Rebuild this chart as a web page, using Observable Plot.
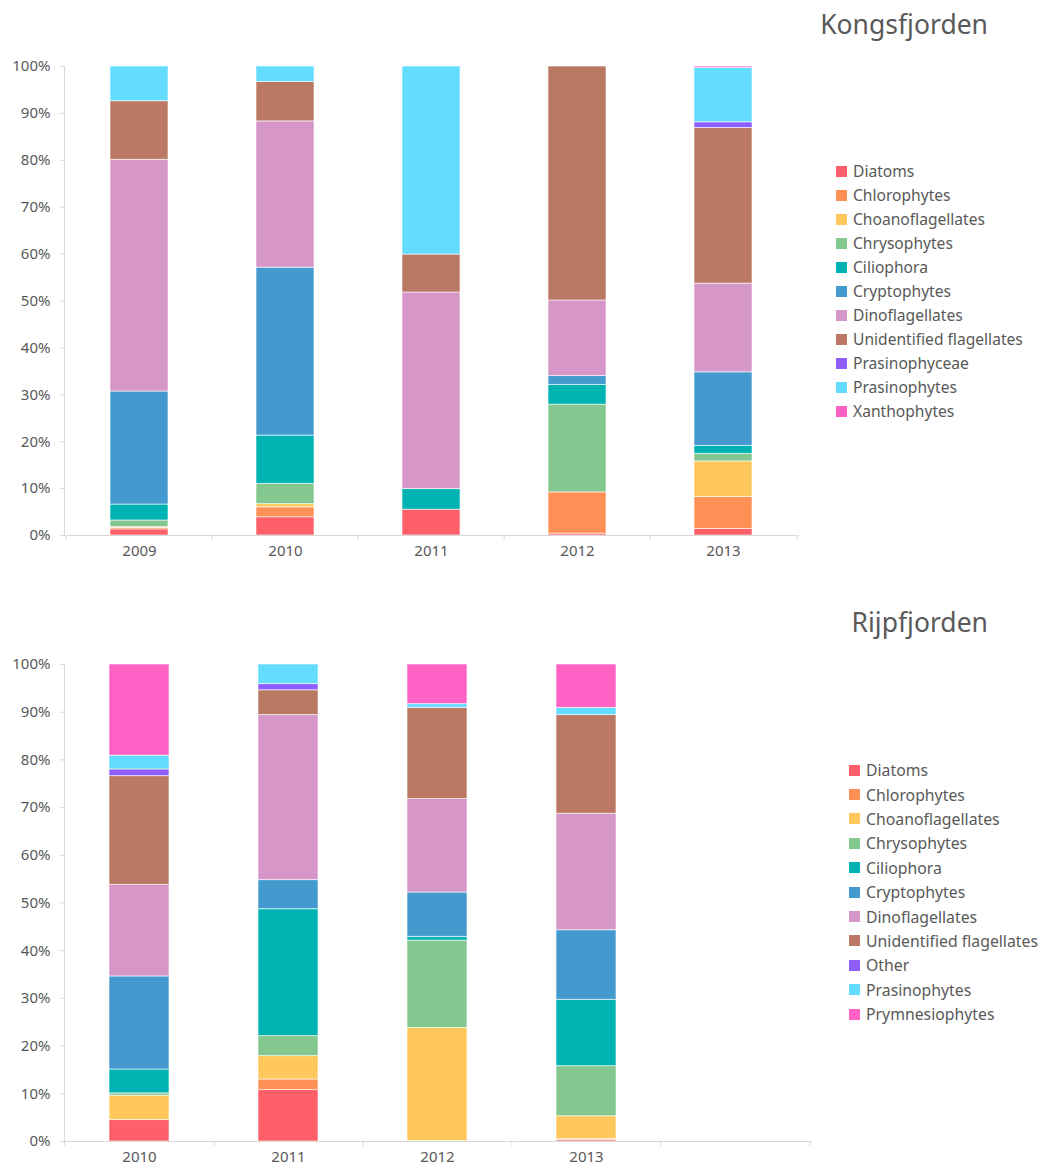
<!DOCTYPE html>
<html><head><meta charset="utf-8">
<script src="https://cdn.jsdelivr.net/npm/d3@7"></script>
<script src="https://cdn.jsdelivr.net/npm/@observablehq/plot@0.6"></script>
<style>
body{margin:0;background:#fff;font-family:"Noto Sans",sans-serif;color:#595959}
#root{position:relative;width:1043px;height:1165px;overflow:hidden;background:#fff}
.title{position:absolute;font-size:26.5px;line-height:34px;color:#595959;white-space:nowrap}
.legend{position:absolute;color:#595959}
.legend .row{display:flex;align-items:center;white-space:nowrap}
.legend .sw{width:11px;height:11px;margin-right:6px;display:inline-block;flex:none}
.chart{position:absolute;left:0}
</style></head><body><div id="root"></div>
<script>
// ---- Data ----
const colors = ["#FF5F68","#FF9055","#FFC85C","#84C890","#00B3B3","#449ACE","#D696C8","#BB7965","#8D5DFF","#62DDFF","#FF62C4"];

const kongYears = ["2009","2010","2011","2012","2013"];
const kongGroups = ["Diatoms","Chlorophytes","Choanoflagellates","Chrysophytes","Ciliophora","Cryptophytes","Dinoflagellates","Unidentified flagellates","Prasinophyceae","Prasinophytes","Xanthophytes"];
const kongDiatoms        = [1.3, 3.9, 5.5, 0.4, 1.4];
const kongChlorophytes   = [0.3, 2.1, 0, 8.8, 6.8];
const kongChoano         = [0.2, 0.7, 0, 0, 7.6];
const kongChrysophytes   = [1.4, 4.3, 0, 18.7, 1.6];
const kongCiliophora     = [3.4, 10.3, 4.4, 4.2, 1.7];
const kongCryptophytes   = [24.1, 35.8, 0, 1.9, 15.7];
const kongDino           = [49.4, 31.2, 41.9, 16.1, 18.9];
const kongUnidentified   = [12.5, 8.4, 8.1, 49.9, 33.2];
const kongPrasinophyceae = [0, 0, 0, 0, 1.2];
const kongPrasinophytes  = [7.4, 3.3, 40.1, 0, 11.6];
const kongXanthophytes   = [0, 0, 0, 0, 0.3];

const rijpYears = ["2010","2011","2012","2013"];
const rijpGroups = ["Diatoms","Chlorophytes","Choanoflagellates","Chrysophytes","Ciliophora","Cryptophytes","Dinoflagellates","Unidentified flagellates","Other","Prasinophytes","Prymnesiophytes"];
const rijpDiatoms        = [4.5, 10.8, 0.1, 0.3];
const rijpChlorophytes   = [0, 2.2, 0, 0.2];
const rijpChoano         = [5.1, 4.9, 23.7, 4.8];
const rijpChrysophytes   = [0.5, 4.2, 18.3, 10.5];
const rijpCiliophora     = [5.0, 26.6, 0.8, 13.9];
const rijpCryptophytes   = [19.5, 6.1, 9.3, 14.6];
const rijpDino           = [19.2, 34.6, 19.6, 24.4];
const rijpUnidentified   = [22.8, 5.2, 19.1, 20.7];
const rijpOther          = [1.4, 1.3, 0, 0];
const rijpPrasinophytes  = [2.9, 4.1, 0.8, 1.5];
const rijpPrymnesio      = [19.1, 0, 8.3, 9.1];

const yTicks = [0,10,20,30,40,50,60,70,80,90,100];

// ---- Chart builder ----
function makeChart({years, domain, groups, values, height, marginTop, marginBottom, marginRight, tickPadding}) {
  const data = [];
  years.forEach((yr, i) => groups.forEach((g, j) => {
    const v = values[j][i];
    if (v > 0) data.push({year: yr, group: g, value: v});
  }));
  const width = 820, marginLeft = 64;
  const step = (width - marginLeft - marginRight) / domain.length;
  const last = [domain[domain.length - 1]];
  const axisColor = "#d9d9d9";
  return Plot.plot({
    width, height, marginLeft, marginRight, marginTop, marginBottom,
    style: {fontFamily: '"Noto Sans", sans-serif', fontSize: "15px", color: "#595959", background: "#fff", overflow: "visible"},
    x: {domain, paddingInner: 0.6, paddingOuter: 0.3, label: null},
    y: {domain: [0, 100], label: null},
    color: {domain: groups, range: colors},
    marks: [
      Plot.barY(data, {x: "year", y: "value", fill: "group", order: groups, stroke: "white", strokeOpacity: 0.6, strokeWidth: 1}),
      Plot.frame({anchor: "left", stroke: axisColor}),
      Plot.frame({anchor: "bottom", stroke: axisColor}),
      Plot.axisY({ticks: yTicks, tickFormat: d => d + "%", tickSize: 4, tickPadding: 10, stroke: axisColor, fill: "#595959", label: null}),
      Plot.axisX({tickSize: 0, tickPadding, fill: "#595959", label: null}),
      Plot.ruleX(domain, {x: d => d, dx: -step / 2, y1: 0, y2: 0, insetBottom: -5, stroke: axisColor}),
      Plot.ruleX(last, {x: d => d, dx: step / 2, y1: 0, y2: 0, insetBottom: -5, stroke: axisColor})
    ]
  });
}

function makeLegend(groups, left, top, rowH, fontSize) {
  const div = document.createElement("div");
  div.className = "legend";
  div.style.left = left + "px";
  div.style.top = top + "px";
  div.style.fontSize = fontSize + "px";
  groups.forEach((g, i) => {
    const row = document.createElement("div");
    row.className = "row";
    row.style.height = rowH + "px";
    const sw = document.createElement("span");
    sw.className = "sw";
    sw.style.background = colors[i];
    const t = document.createElement("span");
    t.textContent = g;
    row.appendChild(sw); row.appendChild(t);
    div.appendChild(row);
  });
  return div;
}

function makeTitle(text, right, top) {
  const d = document.createElement("div");
  d.className = "title";
  d.style.right = right + "px";
  d.style.top = top + "px";
  d.textContent = text;
  return d;
}

const root = document.getElementById("root");

// Kongsfjorden
const c1 = makeChart({
  years: kongYears, domain: kongYears, groups: kongGroups,
  values: [kongDiatoms, kongChlorophytes, kongChoano, kongChrysophytes, kongCiliophora, kongCryptophytes, kongDino, kongUnidentified, kongPrasinophyceae, kongPrasinophytes, kongXanthophytes],
  height: 580, marginTop: 66, marginBottom: 45, marginRight: 22, tickPadding: 10
});
c1.classList.add("chart"); c1.style.top = "0px";
root.appendChild(c1);
root.appendChild(makeTitle("Kongsfjorden", 55, 7));
root.appendChild(makeLegend(kongGroups, 836, 159, 24, 15.6));

// Rijpfjorden
const c2 = makeChart({
  years: rijpYears, domain: [...rijpYears, ""], groups: rijpGroups,
  values: [rijpDiatoms, rijpChlorophytes, rijpChoano, rijpChrysophytes, rijpCiliophora, rijpCryptophytes, rijpDino, rijpUnidentified, rijpOther, rijpPrasinophytes, rijpPrymnesio],
  height: 565, marginTop: 64, marginBottom: 24, marginRight: 10, tickPadding: 10
});
c2.classList.add("chart"); c2.style.top = "600px";
root.appendChild(c2);
root.appendChild(makeTitle("Rijpfjorden", 55, 605));
root.appendChild(makeLegend(rijpGroups, 849, 758, 24.4, 15.8));
</script></body></html>
